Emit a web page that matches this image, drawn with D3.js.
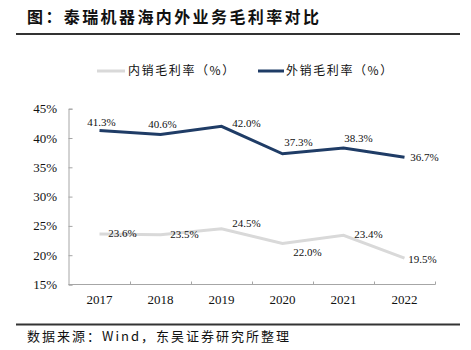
<!DOCTYPE html>
<html><head><meta charset="utf-8">
<script src="https://cdn.jsdelivr.net/npm/d3@7/dist/d3.min.js"></script>
<style>body{margin:0;background:#fff;}svg{display:block;}</style>
</head><body>
<script>
const years = ["2017","2018","2019","2020","2021","2022"];
const domestic = [23.6,23.5,24.5,22.0,23.4,19.5];
const overseas = [41.3,40.6,42.0,37.3,38.3,36.7];
const yTicks = [15,20,25,30,35,40,45];
const seriesNames = ["内销毛利率（%）","外销毛利率（%）"];
const titleText = "图：泰瑞机器海内外业务毛利率对比";
const sourceText = "数据来源：Wind，东吴证券研究所整理";

// label offsets (layout only)
const domOff = [[23,3],[24,3],[25,-2],[25,13],[25,3],[18,5]];
const ovOff = [[2,-4],[2,-6],[25,1],[16,-8],[15,-6],[20,4]];

const W=471,H=350;
const svg=d3.select("body").append("svg").attr("width",W).attr("height",H);
const cjk="'Noto Sans CJK SC','Noto Sans',sans-serif";
const serif="'Liberation Serif','Times New Roman',serif";

svg.append("text").attr("x",27).attr("y",23).text(titleText)
  .attr("font-family",cjk).attr("font-weight","bold").attr("font-size",16)
  .attr("letter-spacing","2.4px").attr("fill","#111");
svg.append("line").attr("x1",16).attr("x2",460).attr("y1",34).attr("y2",34)
  .attr("stroke","#333").attr("stroke-width",2);
svg.append("line").attr("x1",16).attr("x2",460).attr("y1",324.5).attr("y2",324.5)
  .attr("stroke","#333").attr("stroke-width",2);
svg.append("text").attr("x",27).attr("y",341).text(sourceText)
  .attr("font-family",cjk).attr("font-size",13).attr("letter-spacing","2px").attr("fill","#111");

const x=d3.scaleBand().domain(years).range([69,435]);
const y=d3.scaleLinear().domain([15,45]).range([284.5,108.7]);

// y axis
const ya=svg.append("g").attr("transform","translate(68.5,0)")
  .call(d3.axisRight(y).tickValues(yTicks).tickSize(4).tickFormat(""));
ya.selectAll("path,line").attr("stroke","#a6a6a6");
svg.selectAll(".ylab").data(yTicks).enter().append("text")
  .attr("x",57).attr("y",d=>y(d)).attr("dy","0.35em").attr("text-anchor","end")
  .attr("font-family",serif).attr("font-size",13).attr("fill","#111").text(d=>d+"%");

// x axis
const xa=svg.append("g").attr("transform","translate(0,284.5)");
xa.append("line").attr("x1",68.5).attr("x2",435.5).attr("stroke","#a6a6a6");
xa.selectAll(".xt").data(years).enter().append("line")
  .attr("x1",d=>x(d)+x.bandwidth()+0.5).attr("x2",d=>x(d)+x.bandwidth()+0.5)
  .attr("y1",0).attr("y2",-3).attr("stroke","#a6a6a6");
svg.selectAll(".xlab").data(years).enter().append("text")
  .attr("x",d=>x(d)+x.bandwidth()/2).attr("y",304).attr("text-anchor","middle")
  .attr("font-family",serif).attr("font-size",13).attr("fill","#111").text(d=>d);

const cx=(d,i)=>x(years[i])+x.bandwidth()/2;
const line=d3.line().x((d,i)=>cx(d,i)).y(d=>y(d));
const colors=["#d9d9d9","#1f3c66"];
[domestic,overseas].forEach((s,k)=>{
  svg.append("path").datum(s).attr("d",line).attr("fill","none")
    .attr("stroke",colors[k]).attr("stroke-width",3).attr("stroke-linejoin","miter");
  const off=k===0?domOff:ovOff;
  svg.selectAll(".lab"+k).data(s).enter().append("text")
    .attr("x",(d,i)=>cx(d,i)+off[i][0]).attr("y",(d,i)=>y(d)+off[i][1])
    .attr("text-anchor","middle").attr("font-family",serif).attr("font-size",11)
    .attr("fill","#111").text(d=>d.toFixed(1)+"%");
});

// legend
const leg=[[97,125,128],[258,284,286]];
seriesNames.forEach((n,k)=>{
  svg.append("line").attr("x1",leg[k][0]).attr("x2",leg[k][1]).attr("y1",71).attr("y2",71)
    .attr("stroke",colors[k]).attr("stroke-width",3);
  svg.append("text").attr("x",leg[k][2]).attr("y",71).attr("dy","0.35em").text(n)
    .attr("font-family",cjk).attr("font-size",12).attr("letter-spacing","1.6px").attr("fill","#111");
});
</script>
</body></html>
